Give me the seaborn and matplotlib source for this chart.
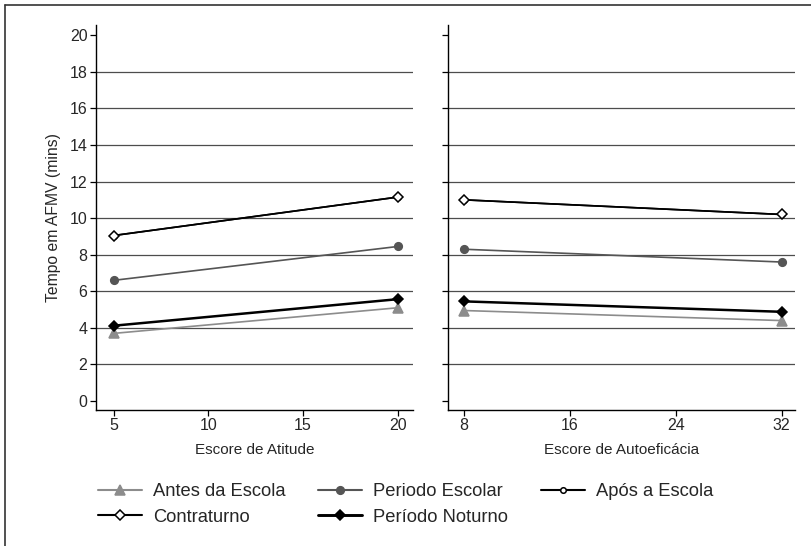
import numpy as np
import pandas as pd
import matplotlib
matplotlib.use("Agg")
import matplotlib.pyplot as plt
from matplotlib.lines import Line2D
import seaborn as sns

# data
series = ["Antes da Escola", "Periodo Escolar", "Após a Escola", "Contraturno", "Período Noturno"]

atitude_x = [5, 20]
atitude_antes = [3.7, 5.1]
atitude_escolar = [6.6, 8.45]
atitude_apos = [9.05, 11.15]      # hidden behind Contraturno in the picture
atitude_contra = [9.05, 11.15]
atitude_noturno = [4.12, 5.57]

autoef_x = [8, 32]
autoef_antes = [4.95, 4.4]
autoef_escolar = [8.3, 7.6]
autoef_apos = [11.0, 10.2]
autoef_contra = [11.0, 10.2]
autoef_noturno = [5.45, 4.88]

y_ticks = [0, 2, 4, 6, 8, 10, 12, 14, 16, 18, 20]
atitude_ticks = [5, 10, 15, 20]
autoef_ticks = [8, 16, 24, 32]

rows = []
for name, vals in zip(series, [atitude_antes, atitude_escolar, atitude_apos, atitude_contra, atitude_noturno]):
    for x, v in zip(atitude_x, vals):
        rows.append({"painel": "atitude", "serie": name, "x": x, "y": v})
for name, vals in zip(series, [autoef_antes, autoef_escolar, autoef_apos, autoef_contra, autoef_noturno]):
    for x, v in zip(autoef_x, vals):
        rows.append({"painel": "autoef", "serie": name, "x": x, "y": v})
df = pd.DataFrame(rows)

sns.set_style("white")
plt.rcParams["font.family"] = ["Liberation Sans", "DejaVu Sans"]

styles = {
    "Antes da Escola": dict(color="#8c8c8c", marker="^", mfc="#8c8c8c", mec="#8c8c8c", ms=6.5, lw=1.2),
    "Periodo Escolar": dict(color="#555555", marker="o", mfc="#555555", mec="#555555", ms=5.5, lw=1.2),
    "Após a Escola": dict(color="black", marker="o", mfc="white", mec="black", ms=4, lw=1.2),
    "Contraturno": dict(color="black", marker="D", mfc="white", mec="black", ms=5, lw=1.2),
    "Período Noturno": dict(color="black", marker="D", mfc="black", mec="black", ms=5.5, lw=1.8),
}

fig = plt.figure(figsize=(8.12, 5.46), dpi=100)
ax1 = fig.add_axes([0.118, 0.249, 0.3904, 0.705])
ax2 = fig.add_axes([0.5517, 0.249, 0.4273, 0.705])

for ax, painel in [(ax1, "atitude"), (ax2, "autoef")]:
    sub = df[df["painel"] == painel]
    for name in series:
        st = styles[name]
        d = sub[sub["serie"] == name]
        sns.lineplot(data=d, x="x", y="y", ax=ax, color=st["color"], marker=st["marker"],
                     markerfacecolor=st["mfc"], markeredgecolor=st["mec"], markersize=st["ms"],
                     markeredgewidth=1.1, linewidth=st["lw"], legend=False, zorder=3)
    ax.set_ylim(-0.49, 20.55)
    ax.set_yticks(y_ticks)
    for yy in y_ticks[1:-1]:
        ax.axhline(yy, color="#4d4d4d", lw=0.9, zorder=1)
    for s in ["top", "right"]:
        ax.spines[s].set_visible(False)
    for s in ["left", "bottom"]:
        ax.spines[s].set_color("black")
        ax.spines[s].set_linewidth(1.0)
    ax.tick_params(axis="both", direction="out", length=4, width=0.9, color="black",
                   left=True, bottom=True, labelsize=11.5, pad=2)
    ax.set_ylabel("")

ax1.set_xlim(4.05, 20.8)
ax1.set_xticks(atitude_ticks)
ax1.set_xlabel("Escore de Atitude", fontsize=11, labelpad=7)
ax1.set_ylabel("Tempo em AFMV (mins)", fontsize=11.3, labelpad=6)

ax2.set_xlim(6.8, 33.0)
ax2.set_xticks(autoef_ticks)
ax2.set_yticklabels([])
ax2.set_xlabel("Escore de Autoeficácia", fontsize=11, labelpad=7)

# legend, filled row by row
order = ["Antes da Escola", "Contraturno", "Periodo Escolar", "Período Noturno", "Após a Escola"]
handles = []
for name in order:
    st = styles[name]
    handles.append(Line2D([], [], color=st["color"], marker=st["marker"], markerfacecolor=st["mfc"],
                          markeredgecolor=st["mec"], markersize=st["ms"], markeredgewidth=1.1,
                          linewidth=st["lw"] + 0.3))
fig.legend(handles, order, loc="upper left", bbox_to_anchor=(0.100, 0.145), ncol=3, frameon=False,
           fontsize=13.2, handlelength=2.4, columnspacing=1.8, labelspacing=0.45, handletextpad=0.6)

# frame lines of the source figure
fig.add_artist(Line2D([0.006, 1.0], [0.991, 0.991], color="#333333", lw=1.2, transform=fig.transFigure))
fig.add_artist(Line2D([0.006, 0.006], [0.0, 0.991], color="#333333", lw=1.2, transform=fig.transFigure))

fig.savefig("out.png", dpi=100)
